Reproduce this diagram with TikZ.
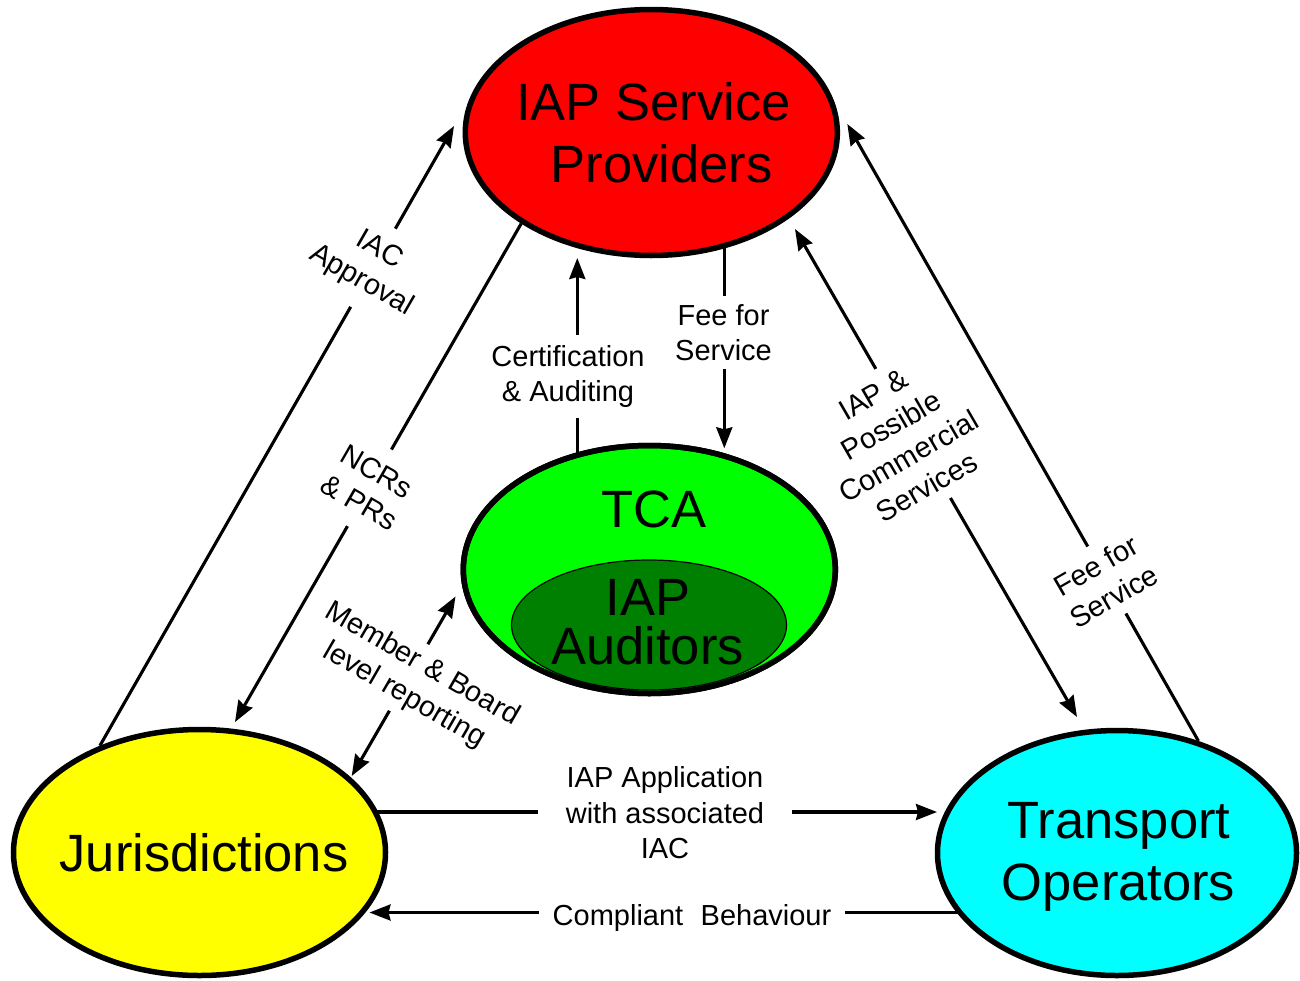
\documentclass[tikz,border=0pt]{standalone}
\usepackage{fontspec}
\setmainfont{Liberation Sans}
\usetikzlibrary{shapes.geometric,arrows.meta}
\pgfdeclarelayer{background}
\pgfsetlayers{background,main}
\definecolor{ispred}{HTML}{FF0000}
\definecolor{tcagreen}{HTML}{00FF00}
\definecolor{audgreen}{HTML}{008000}
\definecolor{juryellow}{HTML}{FFFF00}
\definecolor{topcyan}{HTML}{00FFFF}
\tikzset{
  bubble/.style={ellipse, draw=black, line width=5.5pt, inner sep=0pt},
  big/.style={font=\fontsize{52.5}{60}\selectfont, inner sep=0pt, anchor=base},
  lbl/.style={font=\fontsize{29}{35.5}\selectfont, align=center, fill=white, inner xsep=1pt, inner ysep=2pt},
  conn/.style={line width=3.1pt, -{Stealth[length=21pt,width=16pt,inset=2pt]}},
  conntwo/.style={line width=3.1pt, {Stealth[length=21pt,width=16pt,inset=2pt]}-{Stealth[length=21pt,width=16pt,inset=2pt]}}
}
\begin{document}
\begin{tikzpicture}[x=1pt,y=-1pt]
\useasboundingbox (0,0) rectangle (1300,980);
\begin{pgfonlayer}{background}
\fill[white] (0,0) rectangle (1300,980);
\end{pgfonlayer}

% ellipses
\node[bubble, fill=ispred, minimum width=372pt, minimum height=246pt] (isp) at (651.3,132.5) {};
\node[bubble, fill=tcagreen, minimum width=372pt, minimum height=248pt] (tca) at (649.3,569.5) {};
\node[ellipse, draw=black, line width=1.2pt, fill=audgreen, inner sep=0pt, minimum width=275pt, minimum height=130pt] (aud) at (649,625) {};
\draw[line width=5.5pt] (tca.center) ellipse [x radius=186, y radius=124];
\node[bubble, fill=juryellow, minimum width=372pt, minimum height=246pt] (jur) at (199.5,852.5) {};
\node[bubble, fill=topcyan, minimum width=359pt, minimum height=245pt] (top) at (1117,853) {};

% ellipse texts
\node[big] (ispA) at (653.5,120) {IAP Service};
\node[big] (ispB) at (661.7,182.5) {Providers};
\node[big] (tcaT) at (654,527) {TCA};
\node[big] (audA) at (648,615) {IAP};
\node[big] (audB) at (647.5,664) {Auditors};
\node[big] (jurT) at (204,871) {Jurisdictions};
\node[big] (topA) at (1119,838) {Transport};
\node[big] (topB) at (1118.5,900) {Operators};

% free arrow ends
\coordinate (tIAC) at (454,126);
\coordinate (tNCR) at (235,722);
\coordinate (tCert) at (577.3,258);
\coordinate (tFeeC) at (724.3,448.3);
\coordinate (tIAPu) at (795,229);
\coordinate (tIAPd) at (1077,717);
\coordinate (tFeeR) at (847.3,124);
\coordinate (tMemU) at (455.5,596.5);
\coordinate (tMemD) at (351.7,776);
\coordinate (tApp) at (937,812);
\coordinate (tComp) at (369.5,912.5);

% connectors (behind the ellipses)
\begin{pgfonlayer}{background}
\draw[conn] (jur.133.7) -- (tIAC);
\draw[conn] (isp.215.7) -- (tNCR);
\draw[conn] (tCert |- tca.center) -- (tCert);
\draw[conn] (tFeeC |- isp.center) -- (tFeeC);
\draw[conntwo] (tIAPd) -- (tIAPu);
\draw[conn] (top.54.2) -- (tFeeR);
\draw[conntwo] (tMemD) -- (tMemU);
\draw[conn] (tApp -| jur.center) -- (tApp);
\draw[conn] (tComp -| top.center) -- (tComp);
\end{pgfonlayer}

% connector labels
\node[lbl, rotate=-30, inner ysep=14pt] (lIAC) at (370,266) {IAC\\Approval};
\node[lbl, rotate=-30, inner ysep=16pt] (lNCR) at (368,487) {NCRs\\\& PRs};
\node[lbl, rotate=-30, inner ysep=7pt] (lMem) at (413,680) {Member \& Board\\level reporting};
\node[lbl, rotate=30, inner ysep=11pt] (lIAP) at (900,441) {IAP \&\\Possible\\Commercial\\Services};
\node[lbl, rotate=30, inner ysep=10pt] (lFeeR) at (1105,581) {Fee for\\Service};
\node[lbl, inner ysep=10pt] (lCert) at (568,376.5) {Certification\\\& Auditing};
\node[lbl, inner ysep=8pt] (lFeeC) at (723.5,332.5) {Fee for\\Service};
\node[lbl, inner xsep=28pt] (lApp) at (665,813) {IAP Application\\with associated\\IAC};
\node[lbl, inner xsep=14pt] (lComp) at (692,917.5) {Compliant\hspace{0.6em}Behaviour};
\end{tikzpicture}
\end{document}
